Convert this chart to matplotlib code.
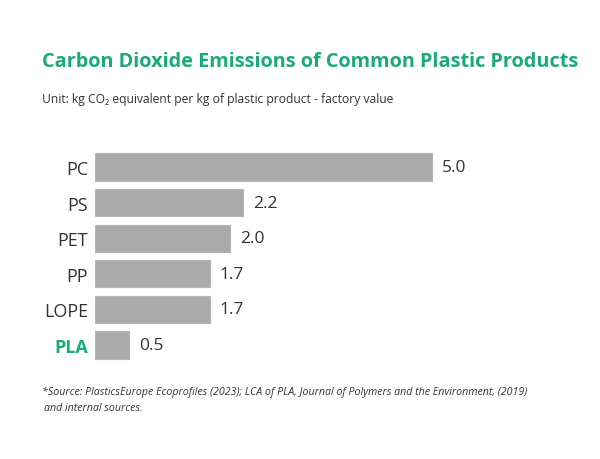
import matplotlib
matplotlib.use('Agg')
import matplotlib.pyplot as plt

# data
materials = ['PC', 'PS', 'PET', 'PP', 'LOPE', 'PLA']
emissions = [5.0, 2.2, 2.0, 1.7, 1.7, 0.5]
value_labels = ['5.0', '2.2', '2.0', '1.7', '1.7', '0.5']

green = '#1aaa76'
bar_grey = '#aaaaaa'
text_col = '#333333'
fonts = ['Open Sans', 'DejaVu Sans']

fig = plt.figure(figsize=(6, 4.6), dpi=100)
ax = fig.add_axes([95 / 600, 1 - 363.8 / 460, 445 / 600, 213.6 / 460])

pos = list(range(len(materials)))
ax.barh(pos, emissions, height=0.76, color=bar_grey, edgecolor='#b4b4b4', linewidth=0.8)
ax.set_ylim(5.5, -0.5)
ax.set_xlim(0, 445 / 67.4)

for p, v, lab in zip(pos, emissions, value_labels):
    ax.text(v + 0.15, p, lab, va='center', ha='left', fontsize=12.5,
            color=text_col, family=fonts)

ax.set_yticks(pos)
ax.set_yticklabels(materials, fontsize=13, color=text_col, family=fonts)
ax.tick_params(axis='y', length=0, pad=5)
ax.set_xticks([])
for s in ax.spines.values():
    s.set_visible(False)
pla = ax.get_yticklabels()[-1]
pla.set_color(green)
pla.set_fontweight('bold')

fig.text(42 / 600, 1 - 62 / 460, 'Carbon Dioxide Emissions of Common Plastic Products',
         fontsize=14.3, fontweight='bold', color=green, va='center', ha='left', family=fonts)
fig.text(42 / 600, 1 - 100 / 460,
         'Unit: kg CO\u2082 equivalent per kg of plastic product - factory value',
         fontsize=8.7, color=text_col, va='center', ha='left', family=fonts)
fig.text(42 / 600, 1 - 392 / 460,
         '*Source: PlasticsEurope Ecoprofiles (2023); LCA of PLA, Journal of Polymers and the Environment, (2019)',
         fontsize=7.7, style='italic', color=text_col, va='center', ha='left', family=fonts)
fig.text(44 / 600, 1 - 409 / 460, 'and internal sources.',
         fontsize=7.7, style='italic', color=text_col, va='center', ha='left', family=fonts)

fig.savefig('out.png', dpi=100, facecolor='white')
